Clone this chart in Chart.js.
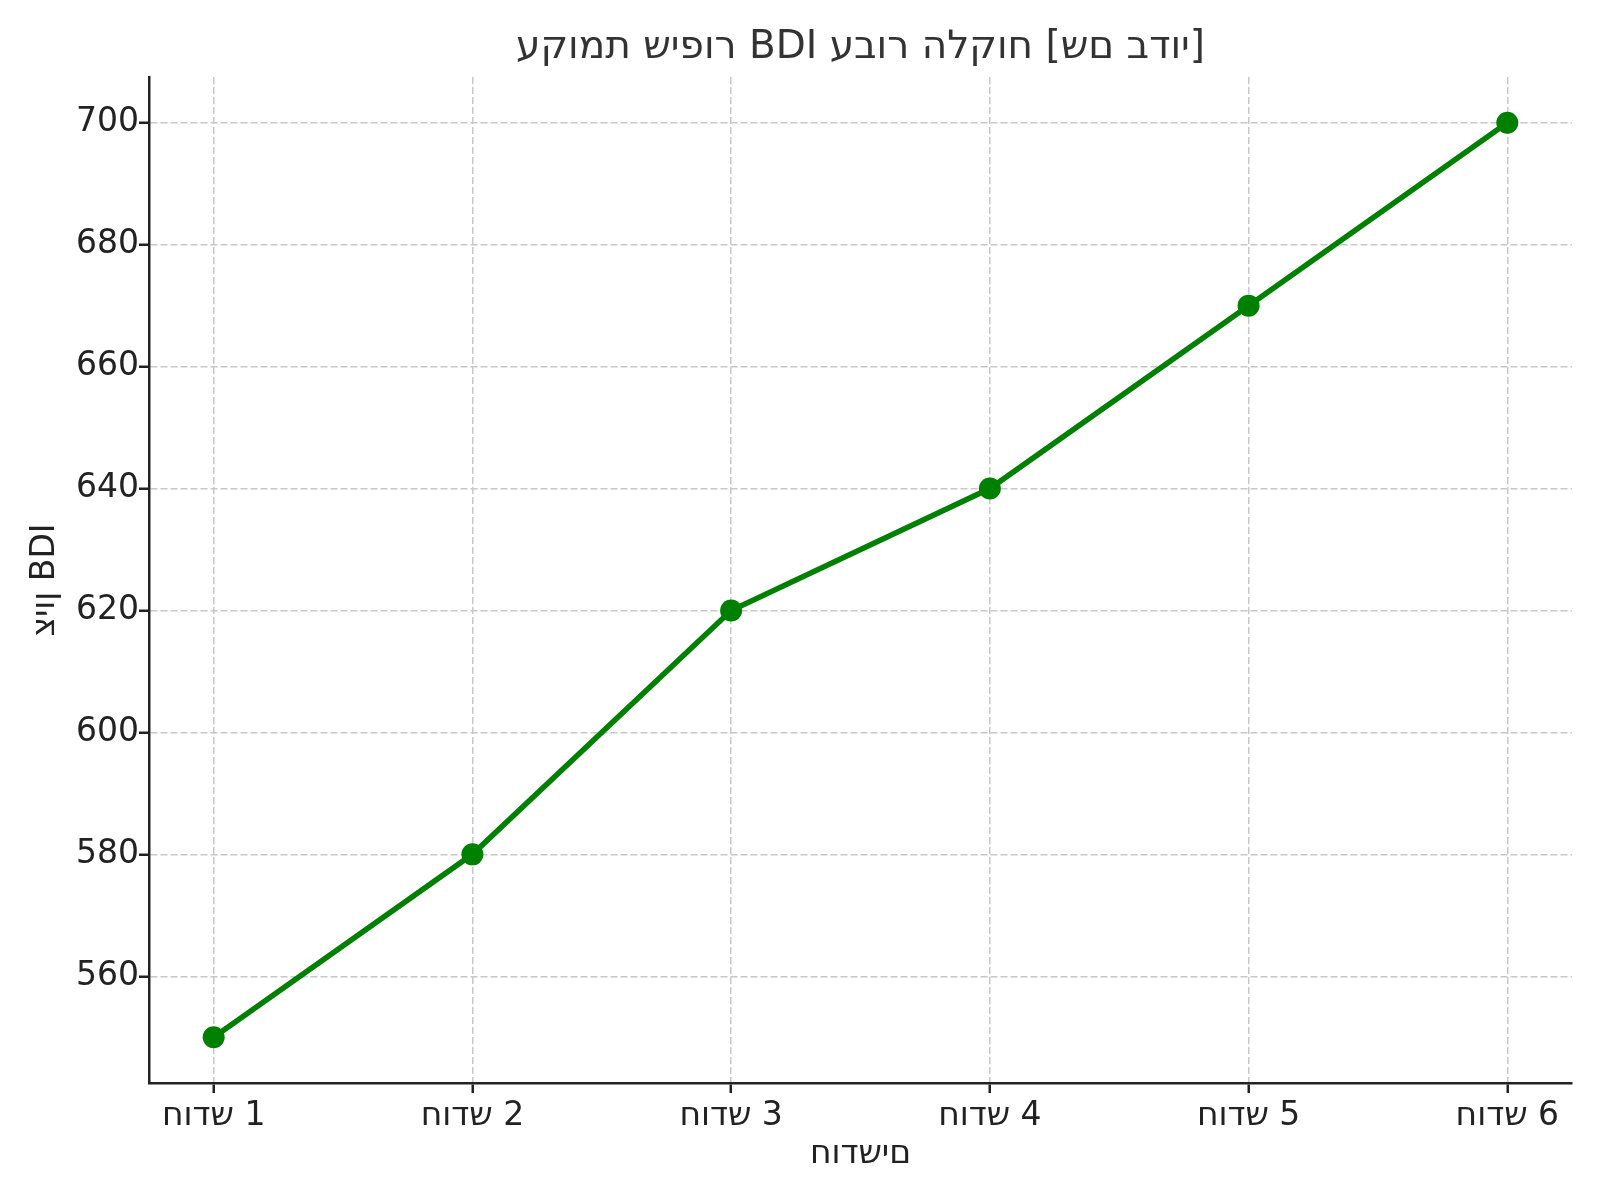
<!DOCTYPE html>
<html>
<head>
<meta charset="utf-8">
<script src="https://cdn.jsdelivr.net/npm/chart.js@4"></script>
<style>
  body { margin: 0; background: #fff; }
  canvas { display: block; }
</style>
</head>
<body>
<canvas id="myChart" width="1600" height="1200"></canvas>
<script>
// data
const months = ['חודש 1', 'חודש 2', 'חודש 3', 'חודש 4', 'חודש 5', 'חודש 6'];
const bdiScores = [550, 580, 620, 640, 670, 700];
const yTicks = [560, 580, 600, 620, 640, 660, 680, 700];

const chartTitle = 'עקומת שיפור BDI עבור הלקוח [שם בדוי]';
const xTitle = 'חודשים';
const yTitle = 'ציון BDI';

// matplotlib draws hebrew without bidi, so keep characters left-to-right
const ltr = s => '\u202D' + s + '\u202C';

const font = { family: 'DejaVu Sans', size: 33 };
const textColor = '#222';

// title centred over the plot area, like matplotlib does
const plotTitle = {
  id: 'plotTitle',
  afterDraw(chart) {
    const { ctx, chartArea } = chart;
    ctx.save();
    ctx.font = '39px "DejaVu Sans"';
    ctx.fillStyle = '#333';
    ctx.textAlign = 'center';
    ctx.textBaseline = 'middle';
    ctx.fillText(ltr(chartTitle), (chartArea.left + chartArea.right) / 2, 48);
    ctx.restore();
  }
};

const data = {
  datasets: [{
    label: yTitle,
    data: bdiScores.map((v, i) => ({ x: i, y: v })),
    borderColor: '#008000',
    backgroundColor: '#008000',
    borderWidth: 5.5,
    pointRadius: 11,
    pointHoverRadius: 11,
    pointBorderWidth: 0,
    tension: 0,
    clip: false
  }]
};

const config = {
  type: 'line',
  data,
  plugins: [plotTitle],
  options: {
    responsive: false,
    devicePixelRatio: 1,
    animation: false,
    layout: { padding: { left: 0, right: 28, top: 77, bottom: 0 } },
    plugins: {
      legend: { display: false },
      tooltip: { enabled: false },
      title: { display: false }
    },
    scales: {
      x: {
        type: 'linear',
        min: -0.25,
        max: 5.25,
        afterBuildTicks: s => { s.ticks = months.map((m, i) => ({ value: i })); },
        afterFit: s => { s.height = 117; },
        ticks: {
          callback: v => ltr(months[v]),
          color: textColor,
          font,
          padding: 4,
          maxRotation: 0
        },
        grid: { color: '#c8c8c8', lineWidth: 1.5, tickLength: 10, tickColor: '#222', tickWidth: 2.5 },
        border: { color: '#222', width: 2.5, dash: [7, 3] },
        title: {
          display: true,
          text: ltr(xTitle),
          color: textColor,
          font,
          padding: { top: 0, bottom: 26 }
        }
      },
      y: {
        min: 542.5,
        max: 707.5,
        afterBuildTicks: s => { s.ticks = yTicks.map(v => ({ value: v })); },
        afterFit: s => { s.width = 149; },
        ticks: { color: textColor, font, padding: 0 },
        grid: { color: '#c8c8c8', lineWidth: 1.5, tickLength: 10, tickColor: '#222', tickWidth: 2.5 },
        border: { color: '#222', width: 2.5, dash: [7, 3] },
        title: {
          display: true,
          text: ltr(yTitle),
          color: textColor,
          font,
          padding: { top: 26, bottom: 0 }
        }
      }
    }
  }
};

const myChart = new Chart(document.getElementById('myChart'), config);
</script>
</body>
</html>
